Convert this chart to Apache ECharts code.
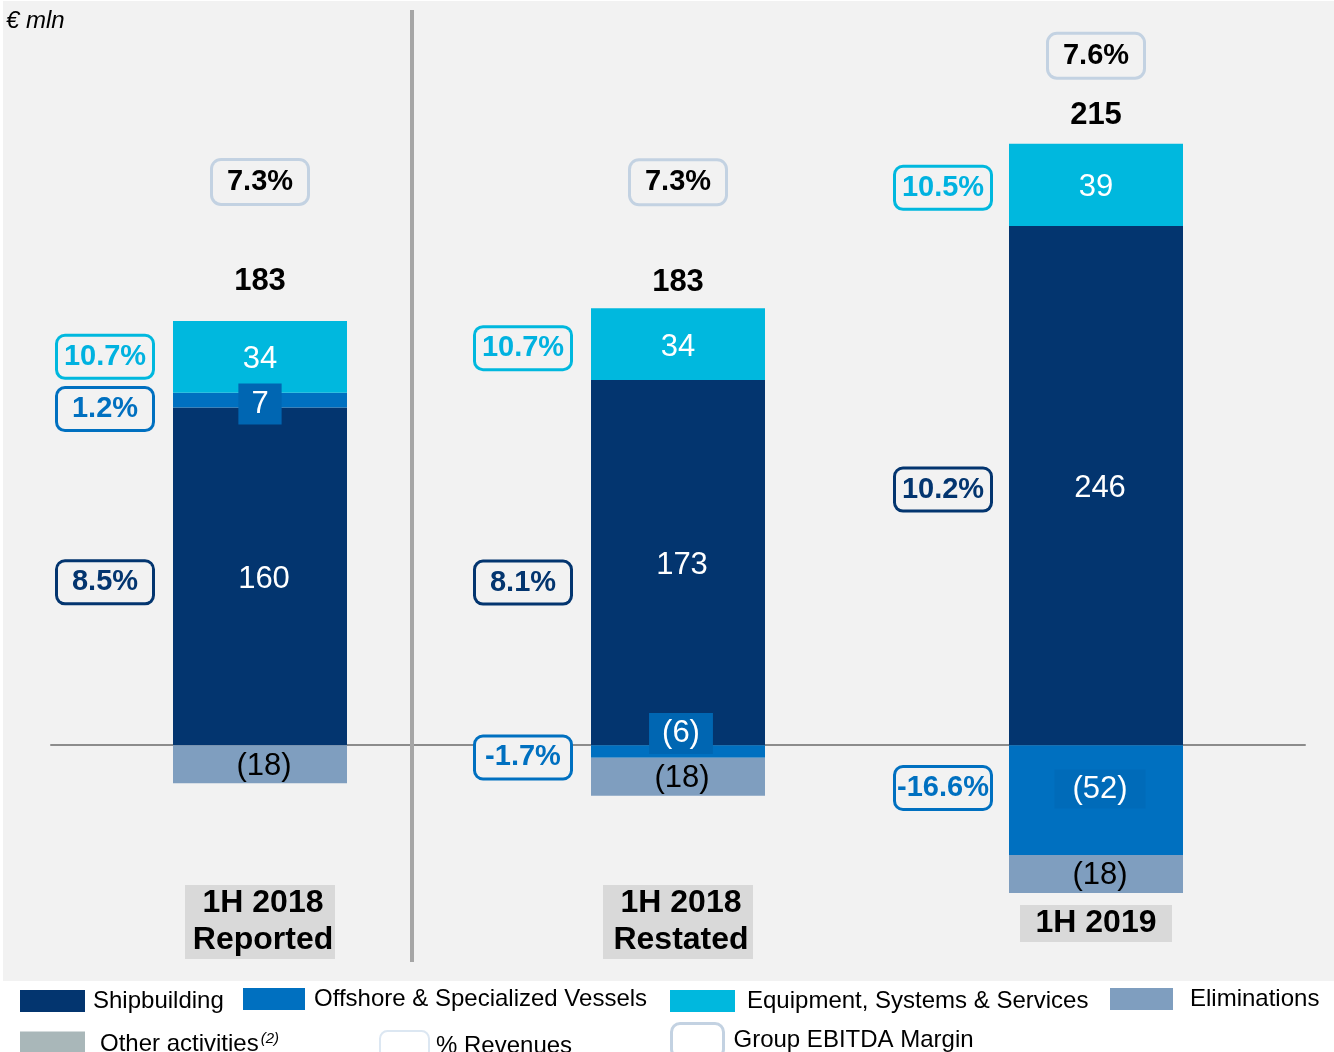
<!DOCTYPE html>
<html>
<head>
<meta charset="utf-8">
<script src="https://cdn.jsdelivr.net/npm/echarts@6/dist/echarts.min.js"></script>
<style>
  html, body { margin: 0; padding: 0; background: #ffffff; }
  #main { width: 1334px; height: 1052px; }
</style>
</head>
<body>
<div id="main"></div>
<script>
// data, € mln
var categories = ['1H 2018\nReported', '1H 2018\nRestated', '1H 2019'];
var shipbuilding = [160, 173, 246];
var offshore = [7, -6, -52];
var equipment = [34, 34, 39];
var eliminations = [-18, -18, -18];
var totals = [183, 183, 215];
// % revenues by segment
var shipPct = [8.5, 8.1, 10.2];
var offshorePct = [1.2, -1.7, -16.6];
var equipmentPct = [10.7, 10.7, 10.5];
// group EBITDA margin
var ebitdaMargin = [7.3, 7.3, 7.6];

// layout tweaks (pixels)
var pctDx = [-155, -155, -153];
var shipPctDy = [6, 20, 4];
var offPctDy = [9, 6, -12];
var eqPctDy = [0, 4, 3];
var totalDy = [-39, -26, -28];
var marginDy = [-139, -126, -88];
var offLabelOffset = [[0, 4], [3, -18], [4, -11]];

var C_SHIP = '#03356f';
var C_OFF = '#0070c0';
var C_EQ = '#00b8de';
var C_ELIM = '#7f9ebf';
var C_OTHER = '#a9b7b9';
var FONT = '"Liberation Sans", Arial, sans-serif';

var myChart = echarts.init(document.getElementById('main'));

// stacked positions (same-sign stacking)
var segs = [shipbuilding, offshore, equipment, eliminations];
function segMid(k, i) {
  var pos = 0, neg = 0, mid = 0;
  for (var s = 0; s <= k; s++) {
    var v = segs[s][i];
    if (v >= 0) { mid = pos + v / 2; pos += v; }
    else { mid = neg + v / 2; neg += v; }
  }
  return mid;
}
var posTop = categories.map(function (c, i) {
  return segs.reduce(function (a, s) { return a + (s[i] > 0 ? s[i] : 0); }, 0);
});

function fmt(v) { return v < 0 ? '(' + Math.abs(v) + ')' : String(v); }
function pctText(v) { return v.toFixed(1) + '%'; }

function pctItem(mid, i, dy, val, color, txtColor) {
  return {
    value: [i, mid],
    label: {
      show: true,
      position: 'inside',
      offset: [pctDx[i], dy],
      formatter: pctText(val),
      color: txtColor,
      opacity: 1,
      fontFamily: FONT,
      fontSize: 29,
      fontWeight: 'bold',
      backgroundColor: '#f2f2f2',
      borderColor: color,
      borderWidth: 3,
      borderRadius: 7,
      width: 94,
      align: 'center',
      lineHeight: 34,
      padding: [3, 0, 3, 0]
    }
  };
}

var pctData = [];
categories.forEach(function (c, i) {
  pctData.push(pctItem(segMid(2, i), i, eqPctDy[i], equipmentPct[i], C_EQ, '#00b2e0'));
  pctData.push(pctItem(segMid(1, i), i, offPctDy[i], offshorePct[i], C_OFF, C_OFF));
  pctData.push(pctItem(segMid(0, i), i, shipPctDy[i], shipPct[i], C_SHIP, C_SHIP));
});

function valueLabel(color, offset) {
  return {
    show: true,
    position: 'inside',
    color: color,
    offset: offset,
    fontFamily: FONT,
    fontSize: 31,
    formatter: function (p) { return fmt(p.value); }
  };
}

var hiddenPoint = { color: 'rgba(0,0,0,0)', opacity: 1 };

option = {
  animation: false,
  graphic: [
    { type: 'rect', z: -10, shape: { x: 3, y: 1, width: 1331, height: 980 }, style: { fill: '#f2f2f2' } },
    { type: 'line', z: 1, shape: { x1: 412, y1: 10, x2: 412, y2: 962 }, style: { stroke: '#a6a6a6', lineWidth: 4 } }
  ],
  title: {
    text: '€ mln',
    left: 1,
    top: 4,
    textStyle: { fontFamily: FONT, fontSize: 24, fontStyle: 'italic', fontWeight: 'normal', color: '#000' }
  },
  grid: { left: 51, width: 1254, top: 112, height: 802, outerBoundsMode: 'none', containLabel: false },
  xAxis: {
    type: 'category',
    data: categories,
    axisLine: { onZero: true, lineStyle: { color: '#8c8c8c', width: 2 } },
    axisTick: { show: false },
    axisLabel: {
      margin: -29,
      formatter: function (v) {
        var lines = v.split('\n');
        if (lines.length === 1) return '{gap|}\n{c|' + v + '}';
        return lines.map(function (l) { return '{b|' + l + '}'; }).join('\n');
      },
      rich: {
        gap: { lineHeight: 20, height: 20 },
        b: { color: '#000', fontFamily: FONT, fontSize: 32, fontWeight: 'bold', lineHeight: 37, height: 37,
          width: 138, align: 'center', padding: [0, 3, 0, 9], backgroundColor: '#d9d9d9' },
        c: { color: '#000', fontFamily: FONT, fontSize: 32, fontWeight: 'bold', lineHeight: 37, height: 37,
          width: 122, align: 'center', padding: [0, 15], backgroundColor: '#d9d9d9' }
      }
    }
  },
  yAxis: { type: 'value', min: -80, max: 300, show: false, splitLine: { show: false } },
  legend: [
    legendItem('Shipbuilding', 20, 989, 65, 22, 8),
    legendItem('Offshore & Specialized Vessels', 243, 987, 62, 22, 9),
    legendItem('Equipment, Systems & Services', 670, 989, 65, 22, 12),
    legendItem('Eliminations', 1110, 987, 63, 22, 17),
    legendItem('Other activities', 20, 1031, 65, 26, 15),
    legendItem('% Revenues', 379, 1030, 49, 30, 7, { color: '#ffffff', borderColor: '#dce7f2', borderWidth: 2, opacity: 1 }),
    legendItem('Group EBITDA Margin', 670, 1022, 52, 34, 10, { color: '#ffffff', borderColor: '#c3d2e2', borderWidth: 3, opacity: 1 })
  ],
  series: [
    { name: 'Shipbuilding', type: 'bar', stack: 'total', barWidth: 174, data: shipbuilding,
      itemStyle: { color: C_SHIP }, label: valueLabel('#ffffff', [4, 3]) },
    { name: 'Offshore & Specialized Vessels', type: 'bar', stack: 'total', barWidth: 174,
      itemStyle: { color: C_OFF },
      data: offshore.map(function (v, i) {
        var lab = { padding: [5, 13, 5, 13], backgroundColor: '#0066b2', offset: offLabelOffset[i] };
        if (i === 2) { lab.backgroundColor = '#006bb9'; lab.padding = [4, 18, 4, 18]; }
        return { value: v, label: lab };
      }),
      label: valueLabel('#ffffff') },
    { name: 'Equipment, Systems & Services', type: 'bar', stack: 'total', barWidth: 174, data: equipment,
      itemStyle: { color: C_EQ }, label: valueLabel('#ffffff', [0, 3]) },
    { name: 'Eliminations', type: 'bar', stack: 'total', barWidth: 174, data: eliminations,
      itemStyle: { color: C_ELIM }, label: valueLabel('#000000', [4, 2]) },
    { name: 'Other activities', type: 'bar', stack: 'total', barWidth: 174, data: [],
      itemStyle: { color: C_OTHER } },
    { name: '% Revenues', type: 'scatter', symbolSize: 1, z: 5,
      itemStyle: hiddenPoint, data: pctData },
    { name: 'Group EBITDA Margin', type: 'scatter', symbolSize: 1, z: 5,
      itemStyle: hiddenPoint,
      data: ebitdaMargin.map(function (v, i) {
        return { value: [i, posTop[i]], label: { offset: [0, marginDy[i]], formatter: pctText(v) } };
      }),
      label: { show: true, position: 'inside', color: '#000', opacity: 1, fontFamily: FONT, fontSize: 29, fontWeight: 'bold',
        backgroundColor: '#f2f2f2', borderColor: '#c3d2e2', borderWidth: 3, borderRadius: 8,
        width: 94, align: 'center', lineHeight: 34, padding: [4, 0, 4, 0] } },
    { name: 'Total', type: 'scatter', symbolSize: 1, z: 5,
      itemStyle: hiddenPoint,
      data: totals.map(function (v, i) {
        return { value: [i, posTop[i]], label: { offset: [0, totalDy[i]], formatter: String(v) } };
      }),
      label: { show: true, position: 'inside', color: '#000', opacity: 1, fontFamily: FONT, fontSize: 31, fontWeight: 'bold' } }
  ]
};

function legendItem(name, left, top, w, h, gap, style) {
  var d = { name: name, icon: style ? 'roundRect' : 'rect' };
  if (style) d.itemStyle = style;
  return {
    left: left, top: top, padding: 0, itemWidth: w, itemHeight: h, selectedMode: false,
    data: [d],
    formatter: function (n) { return n === 'Other activities' ? n + '{sup|(2)}' : n; },
    textStyle: {
      fontFamily: FONT, fontSize: 24, color: '#000', padding: [0, 0, 0, gap - 5],
      rich: { sup: { fontSize: 15, fontStyle: 'italic', verticalAlign: 'top', padding: [0, 0, 12, 2] } }
    }
  };
}

myChart.setOption(option);
</script>
</body>
</html>
